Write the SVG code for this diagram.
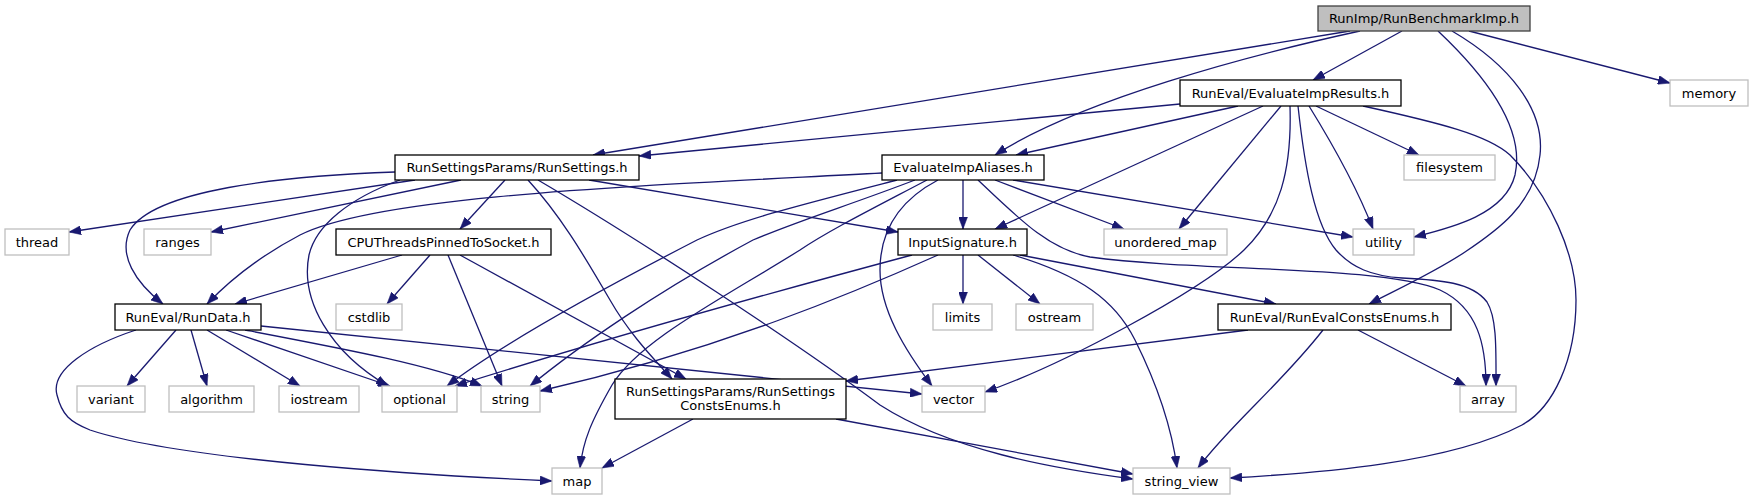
<svg xmlns="http://www.w3.org/2000/svg" width="1753" height="500" viewBox="0 0 1753 500">
<style>
rect{fill:#fff;stroke:#000;stroke-width:1.3}
.s rect{stroke:#bfbfbf}
.r rect{fill:#bfbfbf;stroke:#404040}
text{font-family:"DejaVu Sans","Liberation Sans",sans-serif;font-size:13px;text-anchor:middle;fill:#000}
#edges path{fill:none;stroke:#191970;stroke-width:1.3;marker-end:url(#a)}
</style>
<defs>
<marker id="a" markerUnits="userSpaceOnUse" markerWidth="12" markerHeight="9" refX="12" refY="4.5" orient="auto" viewBox="0 0 12 9">
<path d="M0,0 L12,4.5 L0,9 z" fill="#191970" stroke="#191970" stroke-width="0.5"/>
</marker>
</defs>
<rect x="0" y="0" width="1753" height="500" style="fill:#fff;stroke:none"/>
<g id="edges">
<path d="M1350,31 L593,155"/>
<path d="M1360,31 C1250,55 1080,100 995,155"/>
<path d="M1402,31 L1313,80"/>
<path d="M1438,31 C1490,80 1525,130 1515,175 C1505,215 1450,228 1414,237"/>
<path d="M1452,31 C1510,65 1545,110 1540,155 C1535,205 1495,232 1465,252 C1435,272 1400,288 1369,304"/>
<path d="M1469,31 L1670,83"/>
<path d="M1180,104 L639,156"/>
<path d="M1238,106 L1016,155"/>
<path d="M1263,106 L995,229"/>
<path d="M1281,106 L1179,229"/>
<path d="M1290,106 C1292,170 1280,215 1244,250 C1200,292 1060,366 985,392"/>
<path d="M1298,106 C1305,170 1315,225 1336,250 C1352,268 1372,276 1402,278 C1440,280 1472,282 1487,302 C1497,318 1496,350 1496,386"/>
<path d="M1309,106 C1330,140 1356,185 1373,229"/>
<path d="M1316,106 L1419,155"/>
<path d="M1363,106 C1440,123 1488,135 1510,155 C1550,195 1576,255 1576,300 C1576,360 1553,408 1522,425 C1450,463 1320,473 1230,478"/>
<path d="M882,173 C640,186 380,195 300,235 C262,255 230,280 207,304"/>
<path d="M415,180 L69,232"/>
<path d="M461,180 L211,232"/>
<path d="M505,180 L460,229"/>
<path d="M400,180 C350,198 316,225 309,255 C300,300 330,352 388,386"/>
<path d="M395,172 C280,176 155,190 130,230 C118,255 135,282 163,304"/>
<path d="M528,180 C560,215 582,252 610,300 C630,335 655,360 672,379"/>
<path d="M538,180 C640,240 800,345 880,405 C950,450 1050,468 1133,479"/>
<path d="M589,180 L898,232"/>
<path d="M402,255 L235,304"/>
<path d="M430,255 L387,304"/>
<path d="M448,255 L502,386"/>
<path d="M460,255 L686,379"/>
<path d="M897,180 C800,205 740,220 697,240 C600,290 500,345 447,386"/>
<path d="M915,180 C850,205 800,220 753,240 C660,290 580,345 530,386"/>
<path d="M927,180 C870,210 830,230 800,250 C720,300 640,340 612,385 C592,420 583,440 580,468"/>
<path d="M938,180 C900,200 880,230 880,270 C880,310 905,350 932,386"/>
<path d="M963,180 L963,229"/>
<path d="M978,180 C1020,220 1050,250 1090,257 C1200,272 1380,265 1440,290 C1478,308 1486,345 1486,386"/>
<path d="M995,180 L1124,229"/>
<path d="M1013,180 L1353,237"/>
<path d="M912,255 C800,285 600,340 455,386"/>
<path d="M938,255 C860,290 720,350 540,391"/>
<path d="M963,255 L963,304"/>
<path d="M978,255 L1040,304"/>
<path d="M1013,255 C1080,275 1115,300 1135,340 C1160,390 1172,430 1177,468"/>
<path d="M1020,255 L1276,304"/>
<path d="M261,326 L922,394"/>
<path d="M136,330 C90,345 50,370 57,395 C62,415 70,422 90,430 C180,460 420,475 552,481"/>
<path d="M176,330 L127,386"/>
<path d="M191,330 L207,386"/>
<path d="M207,330 L300,386"/>
<path d="M226,330 L390,386"/>
<path d="M245,330 C350,350 430,365 482,386"/>
<path d="M693,419 L602,468"/>
<path d="M836,419 L1133,474"/>
<path d="M1323,330 C1280,385 1230,425 1198,468"/>
<path d="M1358,330 L1466,386"/>
<path d="M1248,330 L846,381"/>
</g>
<g id="n_RunBenchmarkImp" class="r"><rect x="1318" y="6" width="212" height="25"/><text x="1424" y="23">RunImp/RunBenchmarkImp.h</text></g>
<g id="n_EvaluateImpResults"><rect x="1180" y="80" width="221" height="26"/><text x="1290.5" y="97.5">RunEval/EvaluateImpResults.h</text></g>
<g id="n_memory" class="s"><rect x="1670" y="80" width="78" height="26"/><text x="1709" y="97.5">memory</text></g>
<g id="n_RunSettings"><rect x="395" y="155" width="244" height="25"/><text x="517" y="172">RunSettingsParams/RunSettings.h</text></g>
<g id="n_EvaluateImpAliases"><rect x="882" y="155" width="162" height="25"/><text x="963" y="172">EvaluateImpAliases.h</text></g>
<g id="n_filesystem" class="s"><rect x="1404" y="155" width="91" height="25"/><text x="1449.5" y="172">filesystem</text></g>
<g id="n_thread" class="s"><rect x="5" y="229" width="64" height="26"/><text x="37" y="246.5">thread</text></g>
<g id="n_ranges" class="s"><rect x="144" y="229" width="67" height="26"/><text x="177.5" y="246.5">ranges</text></g>
<g id="n_CPUThreads"><rect x="336" y="229" width="215" height="26"/><text x="443.5" y="246.5">CPUThreadsPinnedToSocket.h</text></g>
<g id="n_InputSignature"><rect x="898" y="229" width="129" height="26"/><text x="962.5" y="246.5">InputSignature.h</text></g>
<g id="n_unordered_map" class="s"><rect x="1104" y="229" width="123" height="26"/><text x="1165.5" y="246.5">unordered_map</text></g>
<g id="n_utility" class="s"><rect x="1353" y="229" width="61" height="26"/><text x="1383.5" y="246.5">utility</text></g>
<g id="n_RunData"><rect x="115" y="304" width="146" height="26"/><text x="188" y="321.5">RunEval/RunData.h</text></g>
<g id="n_cstdlib" class="s"><rect x="336" y="304" width="66" height="26"/><text x="369" y="321.5">cstdlib</text></g>
<g id="n_limits" class="s"><rect x="933" y="304" width="59" height="26"/><text x="962.5" y="321.5">limits</text></g>
<g id="n_ostream" class="s"><rect x="1016" y="304" width="77" height="26"/><text x="1054.5" y="321.5">ostream</text></g>
<g id="n_RunEvalConstsEnums"><rect x="1218" y="304" width="233" height="26"/><text x="1334.5" y="321.5">RunEval/RunEvalConstsEnums.h</text></g>
<g id="n_variant" class="s"><rect x="77" y="386" width="68" height="26"/><text x="111" y="403.5">variant</text></g>
<g id="n_algorithm" class="s"><rect x="169" y="386" width="85" height="26"/><text x="211.5" y="403.5">algorithm</text></g>
<g id="n_iostream" class="s"><rect x="279" y="386" width="80" height="26"/><text x="319" y="403.5">iostream</text></g>
<g id="n_optional" class="s"><rect x="382" y="386" width="75" height="26"/><text x="419.5" y="403.5">optional</text></g>
<g id="n_string" class="s"><rect x="481" y="386" width="59" height="26"/><text x="510.5" y="403.5">string</text></g>
<g id="n_RunSettingsConstsEnums"><rect x="615" y="379" width="231" height="40"/><text x="730.5" y="395.5">RunSettingsParams/RunSettings</text><text x="730.5" y="410">ConstsEnums.h</text></g>
<g id="n_vector" class="s"><rect x="922" y="386" width="63" height="26"/><text x="953.5" y="403.5">vector</text></g>
<g id="n_array" class="s"><rect x="1460" y="386" width="56" height="26"/><text x="1488" y="403.5">array</text></g>
<g id="n_map" class="s"><rect x="552" y="468" width="50" height="26"/><text x="577" y="485.5">map</text></g>
<g id="n_string_view" class="s"><rect x="1133" y="468" width="97" height="26"/><text x="1181.5" y="485.5">string_view</text></g>
</svg>
